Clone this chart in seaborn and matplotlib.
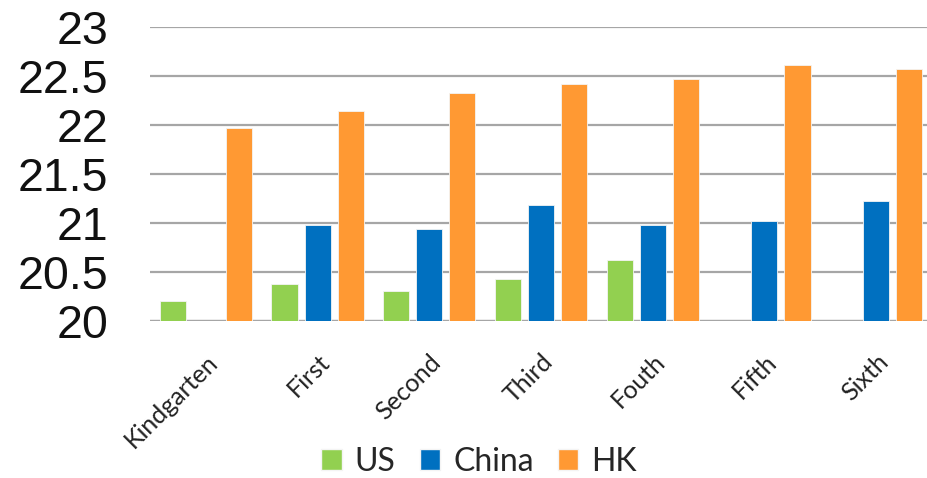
import matplotlib
matplotlib.use("Agg")
import matplotlib.pyplot as plt
import seaborn as sns
import pandas as pd
import numpy as np
from matplotlib.patches import Patch

grades = ["Kindgarten", "First", "Second", "Third", "Fouth", "Fifth", "Sixth"]
series = ["US", "China", "HK"]
us_vals = [20.20, 20.38, 20.31, 20.43, 20.62, np.nan, np.nan]
china_vals = [np.nan, 20.98, 20.94, 21.18, 20.98, 21.02, 21.22]
hk_vals = [21.97, 22.14, 22.32, 22.41, 22.47, 22.61, 22.57]
y_ticks = [20, 20.5, 21, 21.5, 22, 22.5, 23]
y_tick_labels = ["20", "20.5", "21", "21.5", "22", "22.5", "23"]
colors = ["#92D050", "#0070C0", "#FF9933"]

df = pd.DataFrame({
    "grade": grades * 3,
    "country": ["US"] * 7 + ["China"] * 7 + ["HK"] * 7,
    "value": us_vals + china_vals + hk_vals,
})
# bars start at the axis floor (20), so plot the offset above it
base = 20.0
df["height"] = df["value"] - base

sns.set_theme(style="white")
plt.rcParams["font.family"] = ["Liberation Sans", "DejaVu Sans"]

W, H = 927, 478
fig = plt.figure(figsize=(W / 100, H / 100), dpi=100)
ax = fig.add_axes([150 / W, (H - 321) / H, (932 - 150) / W, (321 - 26.6) / H])

sns.barplot(data=df, x="grade", y="height", hue="country", order=grades,
            hue_order=series, palette=colors, width=0.888, gap=0.21,
            bottom=base, ax=ax, legend=False, edgecolor="#f4f4f4",
            linewidth=0.6, saturation=1)

ax.set_ylim(20, 23)
ax.set_xlim(-0.5, 6.5)
ax.set_yticks(y_ticks)
ax.set_yticklabels(y_tick_labels, fontsize=33.5, color="#111111")
ax.tick_params(axis="y", length=0, pad=30)
ax.tick_params(axis="x", length=0, pad=21)
ax.yaxis.grid(True, color="#a6a6a6", linewidth=1.6)
ax.set_axisbelow(True)
for s in ["top", "right", "left", "bottom"]:
    ax.spines[s].set_visible(False)
ax.axhline(20, color="#a6a6a6", linewidth=1.6, zorder=0.5)

ax.set_xticks(range(len(grades)))
ax.set_xticklabels(grades, rotation=45, ha="right", rotation_mode="anchor",
                   fontsize=18, family="Lato", color="#222222")
ax.set_xlabel("")
ax.set_ylabel("")

handles = [Patch(facecolor=c, edgecolor="#f4f4f4", label=s) for c, s in zip(colors, series)]
fig.legend(handles=handles, loc="center", bbox_to_anchor=(479 / W, 1 - 462 / H),
           ncol=3, frameon=False, prop={"family": "Lato", "size": 23},
           handlelength=0.65, handleheight=0.65, handletextpad=0.4, columnspacing=0.75)

fig.savefig("out.png", dpi=100)
